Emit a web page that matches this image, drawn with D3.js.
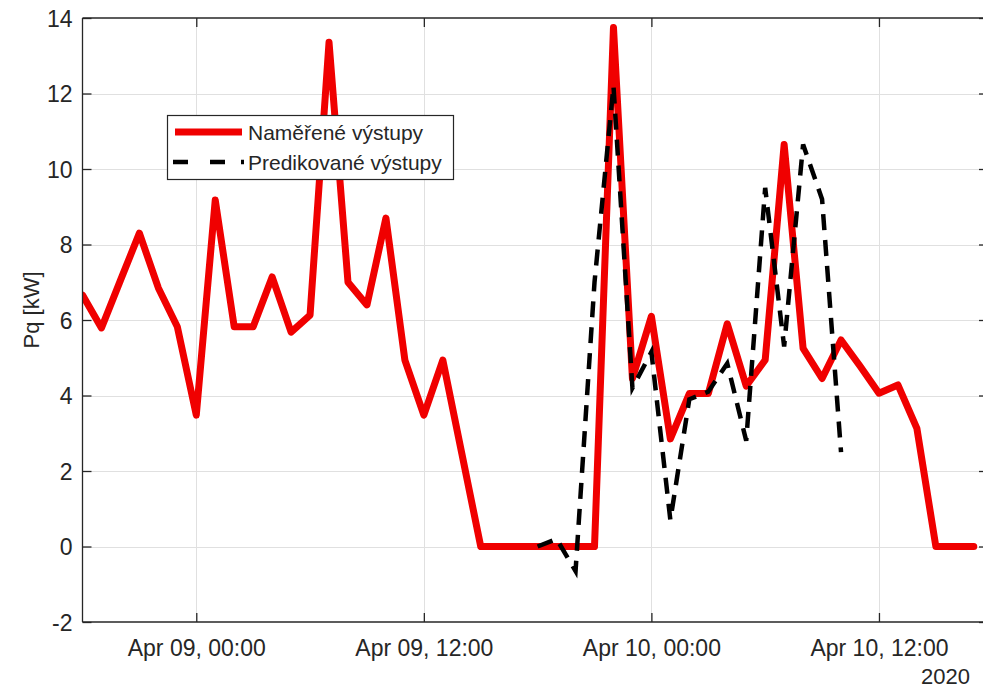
<!DOCTYPE html>
<html>
<head>
<meta charset="utf-8">
<script src="https://cdn.jsdelivr.net/npm/d3@7"></script>
<style>
  html, body { margin: 0; padding: 0; background: #fff; overflow: hidden; }
  svg { display: block; }
  text { font-family: "Liberation Sans", Arial, Helvetica, sans-serif; fill: #262626; }
</style>
</head>
<body>
<svg id="chart" width="983" height="689"></svg>
<script>
// Hourly samples starting 2020-04-08 18:00
const startTime = new Date(2020, 3, 8, 18, 0);

// Measured output (kW), one value per hour
const measured = [
  6.66, 5.79, 7.05, 8.30, 6.85, 5.82, 3.48, 9.18, 5.82, 5.82,
  7.14, 5.68, 6.13, 13.36, 7.00, 6.40, 8.70, 4.94, 3.48, 4.94,
  2.47, 0, 0, 0, 0, 0, 0, 0, 13.75, 4.45,
  6.10, 2.85, 4.05, 4.05, 5.90, 4.25, 4.94, 10.65, 5.25, 4.45,
  5.47, 4.78, 4.06, 4.28, 3.13, 0, 0, 0
];

// Predicted output (kW), starts 24 hours after the first measurement
const predictedOffset = 24;
const predicted = [
  0.0, 0.2, -0.65, 7.0, 12.2, 4.2, 5.15, 0.7, 3.9, 4.1,
  4.85, 2.8, 9.5, 5.3, 10.65, 9.2, 2.5
];

const seriesNames = ["Naměřené výstupy", "Predikované výstupy"];
const yTicks = [-2, 0, 2, 4, 6, 8, 10, 12, 14];
const xTickTimes = [
  new Date(2020, 3, 9, 0), new Date(2020, 3, 9, 12),
  new Date(2020, 3, 10, 0), new Date(2020, 3, 10, 12)
];
const xTickLabels = ["Apr 09, 00:00", "Apr 09, 12:00", "Apr 10, 00:00", "Apr 10, 12:00"];
const yearLabel = "2020";
const yLabel = "Pq [kW]";

const hourMs = 3600 * 1000;
const measuredPts = measured.map((v, i) => ({ t: new Date(+startTime + i * hourMs), v }));
const predictedPts = predicted.map((v, i) => ({ t: new Date(+startTime + (i + predictedOffset) * hourMs), v }));

// Layout
const plotLeft = 82.5, plotRight = 988, plotTop = 18, plotBottom = 622;

const x = d3.scaleTime()
  .domain([startTime, new Date(2020, 3, 10, 17, 45)])
  .range([plotLeft, plotRight]);
const y = d3.scaleLinear().domain([-2, 14]).range([plotBottom, plotTop]);

const svg = d3.select("#chart");

// Grid
const grid = svg.append("g").attr("stroke", "#e0e0e0").attr("stroke-width", 1);
grid.selectAll("line.gy").data(yTicks.filter(d => d !== -2 && d !== 14)).join("line")
  .attr("x1", plotLeft).attr("x2", plotRight)
  .attr("y1", d => Math.round(y(d)) + 0.5).attr("y2", d => Math.round(y(d)) + 0.5);
grid.selectAll("line.gx").data(xTickTimes).join("line")
  .attr("x1", d => Math.round(x(d)) + 0.5).attr("x2", d => Math.round(x(d)) + 0.5)
  .attr("y1", plotTop).attr("y2", plotBottom);

// Plot clip
svg.append("clipPath").attr("id", "plotClip")
  .append("rect").attr("x", plotLeft).attr("y", plotTop - 10)
  .attr("width", plotRight - plotLeft).attr("height", plotBottom - plotTop + 10);

const line = d3.line().x(d => x(d.t)).y(d => y(d.v));

const plot = svg.append("g").attr("clip-path", "url(#plotClip)");
plot.append("path").datum(measuredPts)
  .attr("d", line)
  .attr("fill", "none")
  .attr("stroke", "#f00000")
  .attr("stroke-width", 7)
  .attr("stroke-linejoin", "round")
  .attr("stroke-linecap", "round");
plot.append("path").datum(predictedPts)
  .attr("d", line)
  .attr("fill", "none")
  .attr("stroke", "#000")
  .attr("stroke-width", 4.5)
  .attr("stroke-dasharray", "16,10")
  .attr("stroke-linejoin", "miter");

// Axes (inward ticks on all four sides)
const tickLen = 9;
const axisColor = "#262626";

const yAxis = svg.append("g").attr("transform", `translate(${plotLeft},0)`)
  .call(d3.axisLeft(y).tickValues(yTicks).tickSize(-tickLen).tickPadding(10).tickFormat(d => String(d)));
const yAxisR = svg.append("g").attr("transform", `translate(${plotRight},0)`)
  .call(d3.axisRight(y).tickValues(yTicks).tickSize(-tickLen).tickFormat(""));
const xAxis = svg.append("g").attr("transform", `translate(0,${plotBottom})`)
  .call(d3.axisBottom(x).tickValues(xTickTimes).tickSize(-tickLen).tickPadding(18)
    .tickFormat((d, i) => xTickLabels[i]));
const xAxisT = svg.append("g").attr("transform", `translate(0,${plotTop})`)
  .call(d3.axisTop(x).tickValues(xTickTimes).tickSize(-tickLen).tickFormat(""));

[yAxis, yAxisR, xAxis, xAxisT].forEach(g => {
  g.select(".domain").attr("stroke", axisColor).attr("stroke-width", 1.3);
  g.selectAll(".tick line").attr("stroke", axisColor).attr("stroke-width", 1.3);
  g.selectAll("text").attr("fill", axisColor).style("font-size", "23px")
    .style("font-family", "'Liberation Sans', Arial, sans-serif");
});
yAxis.selectAll(".domain").attr("d", `M0,${plotTop}V${plotBottom}`);
yAxisR.selectAll(".domain").attr("d", `M0,${plotTop}V${plotBottom}`);
xAxis.selectAll(".domain").attr("d", `M${plotLeft},0H${plotRight}`);
xAxisT.selectAll(".domain").attr("d", `M${plotLeft},0H${plotRight}`);
yAxis.selectAll("text").attr("dy", "0.36em");

// Secondary date label
svg.append("text")
  .attr("x", 970).attr("y", 684)
  .attr("text-anchor", "end")
  .style("font-size", "22px")
  .text(yearLabel);

// Y label
svg.append("text")
  .attr("transform", `translate(39,310) rotate(-90)`)
  .attr("text-anchor", "middle")
  .style("font-size", "22px")
  .text(yLabel);

// Legend
const legend = svg.append("g");
legend.append("rect")
  .attr("x", 167.5).attr("y", 115.5).attr("width", 286).attr("height", 64)
  .attr("fill", "#fff").attr("stroke", "#262626").attr("stroke-width", 1.2);
legend.append("line")
  .attr("x1", 175).attr("x2", 242).attr("y1", 132).attr("y2", 132)
  .attr("stroke", "#f00000").attr("stroke-width", 7);
legend.append("line")
  .attr("x1", 173).attr("x2", 244).attr("y1", 162).attr("y2", 162)
  .attr("stroke", "#000").attr("stroke-width", 4.5)
  .attr("stroke-dasharray", "15,22,15,16,3,10");
legend.selectAll("text.lg").data(seriesNames).join("text")
  .attr("x", 248).attr("y", (d, i) => 140 + i * 30)
  .style("font-size", "21px")
  .text(d => d);
</script>
</body>
</html>
